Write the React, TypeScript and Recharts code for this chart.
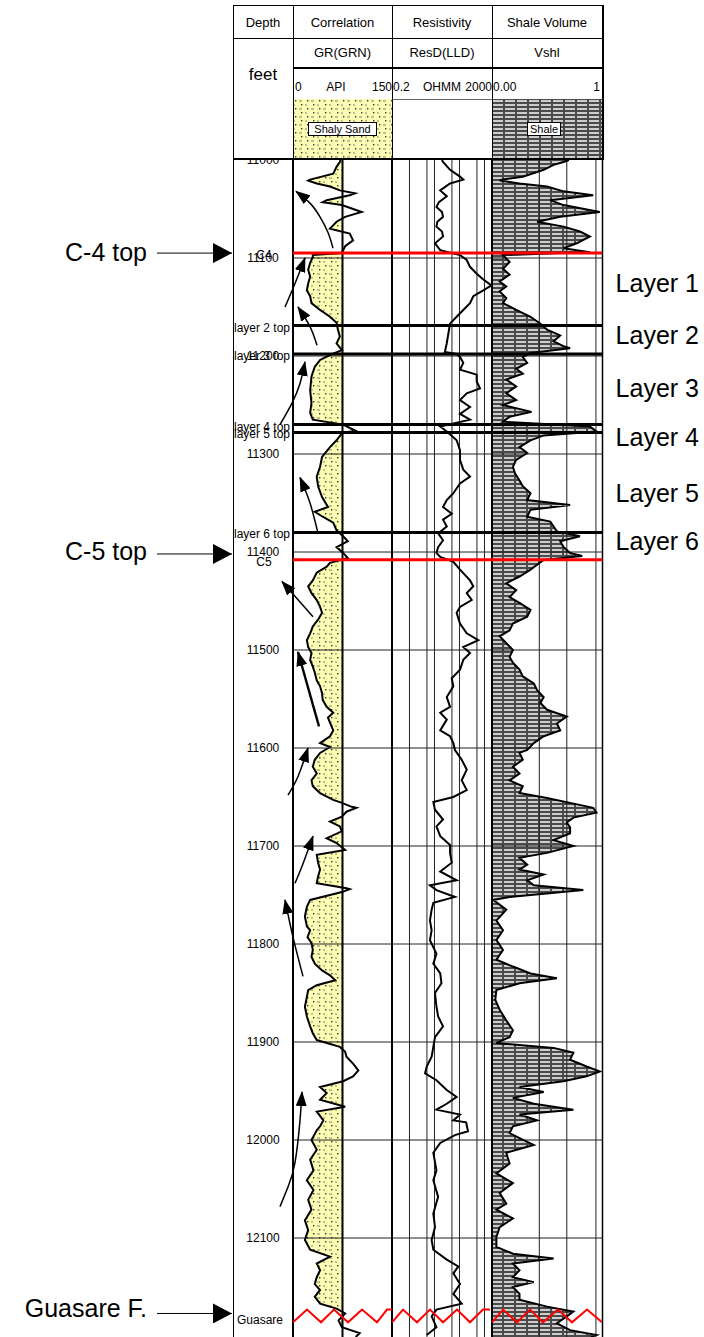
import React from 'react';
import { ComposedChart, Line, Area, XAxis, YAxis, ReferenceLine, ReferenceDot } from 'recharts';

const FONT = '"Liberation Sans", Arial, Helvetica, sans-serif';

// ---------- depth axis ----------
const depthDomain: [number, number] = [11000, 12201];
const depthTicks = [11000, 11100, 11200, 11300, 11400, 11500, 11600, 11700, 11800, 11900, 12000, 12100];
const gridDepths = [11100, 11200, 11300, 11400, 11500, 11600, 11700, 11800, 11900, 12000, 12100];

// ---------- tops ----------
const formationTops = [
  { name: 'C4', depth: 11095 },
  { name: 'C5', depth: 11408 },
];
const guasareLabel = { name: 'Guasare', depth: 12184 };
const layerTops = [
  { name: 'layer 2 top', depth: 11169 },
  { name: 'layer 3 top', depth: 11198 },
  { name: 'layer 4 top', depth: 11270 },
  { name: 'layer 5 top', depth: 11278 },
  { name: 'layer 6 top', depth: 11380 },
];
const layerNames = ['Layer 1', 'Layer 2', 'Layer 3', 'Layer 4', 'Layer 5', 'Layer 6'];
const layerNameDepths = [11125, 11179, 11233, 11283, 11340, 11389];
const pointerLabels = [
  { name: 'C-4 top', textDepth: 11094, arrowDepth: 11095 },
  { name: 'C-5 top', textDepth: 11399, arrowDepth: 11402 },
  { name: 'Guasare F.', textDepth: 12171, arrowDepth: 12177 },
];

// ---------- track scales ----------
const grScale = { min: 0, max: 150, cutoff: 75 };
const resScale = { min: 0.2, max: 2000 };
const resGridValues = [1, 5, 10, 50, 100, 500, 1000];
const vshGridValues = [0.43, 0.68, 0.945];

// ---------- curves: [depth ft, value] ----------
const GR: [number, number][] = [
  [11000, 72], [11002, 71], [11007, 66], [11014, 61], [11020, 26], [11021, 23], [11024, 36], [11027, 56], [11031, 71],
  [11034, 94], [11036, 86], [11041, 51], [11043, 45], [11046, 74], [11053, 104], [11058, 79], [11063, 66], [11070, 56],
  [11075, 86], [11082, 91], [11088, 79], [11092, 76], [11095, 73], [11097, 30], [11099, 30], [11105, 26], [11112, 23],
  [11119, 26], [11126, 23], [11133, 21], [11139, 26], [11146, 28], [11153, 41], [11160, 56], [11166, 66], [11173, 68],
  [11180, 71], [11187, 66], [11194, 74], [11199, 56], [11204, 41], [11211, 33], [11221, 28], [11235, 26], [11248, 28],
  [11258, 26], [11265, 30], [11270, 76], [11276, 94], [11279, 74], [11286, 66], [11293, 56], [11303, 44], [11313, 41],
  [11323, 36], [11333, 38], [11344, 44], [11354, 53], [11359, 33], [11364, 45], [11370, 61], [11378, 66], [11384, 76],
  [11389, 83], [11395, 66], [11401, 76], [11406, 83], [11411, 56], [11415, 51], [11421, 36], [11429, 30], [11435, 23],
  [11442, 28], [11449, 36], [11456, 41], [11462, 44], [11469, 38], [11476, 30], [11483, 26], [11490, 21], [11497, 23],
  [11503, 28], [11510, 26], [11517, 30], [11523, 33], [11531, 36], [11537, 41], [11544, 44], [11551, 45], [11558, 51],
  [11564, 61], [11569, 53], [11574, 56], [11582, 61], [11588, 56], [11595, 41], [11599, 56], [11605, 41], [11612, 33],
  [11619, 30], [11626, 36], [11633, 28], [11639, 30], [11646, 41], [11653, 61], [11656, 74], [11660, 89], [11661, 96],
  [11665, 81], [11670, 74], [11675, 56], [11680, 71], [11685, 74], [11692, 51], [11697, 66], [11704, 79], [11709, 36],
  [11717, 38], [11724, 41], [11731, 38], [11738, 36], [11743, 81], [11744, 86], [11747, 74], [11750, 56], [11755, 26],
  [11762, 21], [11772, 18], [11782, 21], [11786, 26], [11793, 22], [11799, 28], [11806, 30], [11813, 28], [11820, 33],
  [11827, 44], [11832, 56], [11837, 64], [11842, 36], [11847, 23], [11854, 21], [11864, 18], [11874, 21], [11884, 26],
  [11891, 30], [11898, 36], [11905, 71], [11910, 79], [11915, 81], [11922, 91], [11929, 99], [11935, 91], [11940, 76],
  [11946, 41], [11952, 51], [11959, 41], [11966, 79], [11971, 36], [11980, 46], [11986, 41], [11990, 36], [12000, 28],
  [12010, 36], [12020, 26], [12031, 31], [12041, 21], [12051, 31], [12061, 23], [12071, 28], [12082, 18], [12092, 23],
  [12102, 18], [12112, 26], [12119, 56], [12126, 36], [12133, 41], [12140, 36], [12147, 33], [12153, 41], [12160, 33],
  [12167, 41], [12172, 66], [12177, 79], [12184, 69], [12191, 74], [12197, 101], [12201, 95],
];

const RES: [number, number][] = [
  [11000, 20], [11002, 22], [11010, 42], [11017, 105], [11020, 142], [11024, 42], [11031, 17], [11037, 31], [11043, 15],
  [11048, 12], [11053, 20], [11058, 22], [11063, 13], [11068, 12], [11073, 20], [11078, 22], [11085, 10.5], [11092, 17],
  [11097, 105], [11102, 195], [11109, 264], [11116, 489], [11122, 898], [11128, 1900], [11133, 898], [11139, 357],
  [11146, 264], [11153, 142], [11160, 77], [11167, 42], [11177, 36], [11187, 31], [11196, 26], [11198, 77], [11201, 105],
  [11207, 142], [11214, 105], [11219, 489], [11226, 489], [11233, 662], [11238, 195], [11245, 105], [11252, 264],
  [11259, 105], [11265, 264], [11272, 17], [11277, 31], [11286, 77], [11296, 105], [11306, 105], [11316, 142],
  [11323, 264], [11330, 105], [11340, 57], [11347, 31], [11354, 22], [11361, 49], [11367, 22], [11374, 31], [11381, 14],
  [11388, 22], [11395, 14], [11401, 12], [11405, 17], [11410, 57], [11418, 105], [11429, 264], [11435, 357], [11442, 195],
  [11449, 308], [11456, 105], [11462, 77], [11473, 105], [11483, 195], [11490, 566], [11497, 142], [11503, 264],
  [11510, 142], [11520, 105], [11529, 49], [11537, 57], [11548, 31], [11558, 42], [11564, 17], [11571, 31], [11582, 17],
  [11588, 42], [11595, 57], [11602, 66], [11612, 123], [11622, 195], [11633, 123], [11643, 195], [11650, 57], [11655, 9],
  [11663, 10.5], [11673, 22], [11680, 12], [11690, 17], [11699, 42], [11707, 42], [11717, 49], [11726, 17], [11735, 77],
  [11740, 6.6], [11745, 12], [11752, 66], [11758, 9], [11765, 7.7], [11776, 6.6], [11786, 7.7], [11796, 6.6], [11810, 12],
  [11820, 9], [11830, 17], [11840, 19], [11850, 10.5], [11864, 12], [11874, 14], [11884, 22], [11895, 10.5], [11905, 9],
  [11915, 7.7], [11925, 4.9], [11932, 4.2], [11939, 12], [11949, 31], [11956, 77], [11963, 31], [11969, 12], [11974, 105],
  [11980, 57], [11982, 185], [11991, 219], [11995, 66], [12003, 17], [12013, 9], [12031, 12], [12041, 9], [12058, 14],
  [12075, 9], [12089, 10.5], [12102, 7.7], [12112, 9], [12122, 31], [12129, 90], [12136, 57], [12147, 105], [12157, 57],
  [12167, 123], [12173, 12], [12180, 7.7], [12191, 12], [12199, 4.9],
];

const VSH: [number, number][] = [
  [11000, 0.7], [11002, 0.65], [11005, 0.56], [11010, 0.47], [11017, 0.28], [11020, 0.1], [11021, 0.07], [11024, 0.25],
  [11027, 0.5], [11032, 0.65], [11036, 0.92], [11041, 0.53], [11046, 0.65], [11053, 0.98], [11058, 0.62], [11063, 0.41],
  [11068, 0.65], [11073, 0.8], [11078, 0.89], [11085, 0.77], [11090, 0.65], [11094, 0.89], [11097, 0.1], [11104, 0.16],
  [11111, 0.1], [11117, 0.16], [11124, 0.07], [11129, 0.13], [11134, 0.07], [11141, 0.13], [11146, 0.1], [11153, 0.22],
  [11160, 0.35], [11167, 0.44], [11173, 0.5], [11179, 0.62], [11185, 0.56], [11190, 0.65], [11192, 0.71], [11197, 0.35],
  [11201, 0.28], [11207, 0.32], [11213, 0.22], [11218, 0.28], [11224, 0.13], [11231, 0.22], [11238, 0.13], [11245, 0.22],
  [11250, 0.1], [11257, 0.36], [11262, 0.16], [11267, 0.1], [11272, 0.89], [11277, 0.95], [11281, 0.47], [11286, 0.35],
  [11293, 0.25], [11299, 0.32], [11306, 0.22], [11313, 0.19], [11320, 0.21], [11327, 0.25], [11333, 0.28], [11340, 0.35],
  [11347, 0.32], [11352, 0.71], [11357, 0.35], [11364, 0.32], [11369, 0.53], [11374, 0.56], [11379, 0.59], [11384, 0.8],
  [11389, 0.62], [11395, 0.65], [11401, 0.71], [11404, 0.82], [11408, 0.47], [11413, 0.41], [11418, 0.35], [11425, 0.25],
  [11432, 0.13], [11439, 0.22], [11446, 0.16], [11452, 0.25], [11459, 0.35], [11466, 0.32], [11473, 0.19], [11480, 0.16],
  [11486, 0.07], [11493, 0.13], [11500, 0.19], [11507, 0.16], [11513, 0.19], [11520, 0.25], [11527, 0.28], [11534, 0.38],
  [11541, 0.41], [11548, 0.47], [11554, 0.44], [11561, 0.5], [11568, 0.68], [11575, 0.59], [11582, 0.62], [11588, 0.47],
  [11595, 0.38], [11602, 0.32], [11605, 0.25], [11612, 0.28], [11619, 0.19], [11626, 0.25], [11633, 0.16], [11639, 0.28],
  [11646, 0.25], [11651, 0.5], [11656, 0.71], [11661, 0.92], [11666, 0.95], [11671, 0.74], [11676, 0.68], [11681, 0.71],
  [11687, 0.71], [11694, 0.56], [11700, 0.74], [11707, 0.5], [11712, 0.25], [11719, 0.32], [11724, 0.25], [11729, 0.47],
  [11735, 0.32], [11740, 0.38], [11745, 0.83], [11752, 0.16], [11755, 0.01], [11765, 0.13], [11776, 0.04], [11786, 0.1],
  [11796, 0.04], [11806, 0.1], [11816, 0.04], [11823, 0.19], [11830, 0.35], [11835, 0.59], [11840, 0.25], [11847, 0.04],
  [11857, 0.03], [11867, 0.07], [11878, 0.13], [11888, 0.19], [11895, 0.16], [11901, 0.04], [11906, 0.56], [11911, 0.74],
  [11918, 0.71], [11925, 0.86], [11930, 0.98], [11935, 0.86], [11940, 0.65], [11946, 0.25], [11951, 0.47], [11957, 0.19],
  [11963, 0.38], [11969, 0.74], [11974, 0.25], [11980, 0.41], [11986, 0.19], [11993, 0.16], [11998, 0.25], [12005, 0.38],
  [12013, 0.13], [12024, 0.16], [12034, 0.04], [12044, 0.19], [12054, 0.07], [12065, 0.13], [12071, 0.04], [12080, 0.19],
  [12089, 0.07], [12099, 0.04], [12109, 0.04], [12116, 0.19], [12121, 0.56], [12126, 0.19], [12133, 0.25], [12140, 0.19],
  [12145, 0.38], [12150, 0.19], [12157, 0.25], [12163, 0.25], [12170, 0.5], [12175, 0.74], [12180, 0.68], [12187, 0.59],
  [12194, 0.71], [12199, 0.95], [12201, 0.9],
];

// ---------- annotation strokes: [page x, depth] ----------
const ARROWS: [number, number][][] = [
  [[333, 11090], [328, 11074], [320, 11058], [310, 11044], [296, 11032]],
  [[285, 11150], [295, 11126], [305, 11100]],
  [[317, 11189], [310, 11170], [298, 11150]],
  [[280, 11270], [292, 11248], [300, 11228], [305, 11206]],
  [[318, 11381], [310, 11350], [300, 11324]],
  [[313, 11466], [282, 11430]],
  [[319, 11578], [298, 11502]],
  [[288, 11648], [298, 11629], [308, 11600]],
  [[295, 11738], [303, 11718], [313, 11690]],
  [[303, 11833], [293, 11793], [285, 11755]],
  [[280, 12068], [288, 12048], [295, 12023], [300, 11980], [302, 11951]],
];
const ZIGZAGS: [number, number][][] = [
  [[293, 12186], [307, 12173], [321, 12186], [334, 12173], [348, 12186], [362, 12173], [377, 12186], [387, 12173], [392, 12173]],
  [[392, 12186], [403, 12173], [417, 12186], [430, 12173], [443, 12186], [457, 12173], [470, 12186], [483, 12173], [490, 12173]],
  [[492, 12186], [503, 12173], [517, 12186], [530, 12173], [543, 12186], [558, 12173], [572, 12186], [587, 12173], [602, 12186]],
];

// ---------- layout (page px) ----------
const W = 704;
const H = 1337;
const TOP = 160;
const X = { depthL: 233, grL: 293, grMid: 342.5, grR: 392, resR: 492, vshR: 602 };

const kGr = (grScale.max - grScale.min) / (X.grR - X.grL);
const grDomain: [number, number] = [grScale.min - X.grL * kGr, grScale.max + (W - X.grR) * kGr];
const lgMin = Math.log10(resScale.min);
const lgMax = Math.log10(resScale.max);
const kRes = (lgMax - lgMin) / (X.resR - X.grR);
const resDomain: [number, number] = [lgMin - X.grR * kRes, lgMax + (W - X.resR) * kRes];
const kV = 1 / (X.vshR - X.resR);
const vshDomain: [number, number] = [-X.resR * kV, 1 + (W - X.vshR) * kV];

const grData = GR.map(([depth, v]) => ({ depth, gr: v, sand: Math.min(v, grScale.cutoff) }));
const resData = RES.map(([depth, v]) => ({ depth, lr: Math.log10(v) }));
const vshData = VSH.map(([depth, v]) => ({ depth, vsh: v }));
const toPts = (a: [number, number][]) => a.map(([px, depth]) => ({ px, depth }));

const txt =
  (content: string, opts: { anchor?: string; size?: number; clip?: boolean; color?: string }) =>
  (p: any) => {
    const t = (
      <text
        x={p.cx}
        y={p.cy}
        textAnchor={opts.anchor || 'middle'}
        dominantBaseline="central"
        fontSize={opts.size || 12}
        fontFamily={FONT}
        fill={opts.color || '#000'}
      >
        {content}
      </text>
    );
    return opts.clip ? <g clipPath="url(#depthClip)">{t}</g> : <g>{t}</g>;
  };

const Defs = () => (
  <svg width={0} height={0} style={{ position: 'absolute' }}>
    <defs>
      <pattern id="sandPat" width="12" height="8" patternUnits="userSpaceOnUse">
        <rect width="12" height="8" fill="#fdfdb3" />
        <rect x="1" y="1" width="1.4" height="1.4" fill="#333" />
        <rect x="5" y="1.6" width="3" height="0.8" fill="#666" />
        <rect x="7" y="5" width="1.4" height="1.4" fill="#333" />
        <rect x="11" y="5.6" width="3" height="0.8" fill="#666" />
        <rect x="-1" y="5.6" width="2" height="0.8" fill="#666" />
      </pattern>
      <pattern id="shalePat" width="12" height="4" patternUnits="userSpaceOnUse">
        <rect width="12" height="4" fill="#4a4a4a" />
        <rect x="0" y="1" width="10" height="2" fill="#cdcdcd" />
      </pattern>
      <marker id="ah" markerUnits="userSpaceOnUse" markerWidth="15" markerHeight="11" refX="14" refY="5.5" orient="auto">
        <path d="M0,0 L15,5.5 L0,11 z" fill="#000" />
      </marker>
      <marker id="bigAh" markerUnits="userSpaceOnUse" markerWidth="20" markerHeight="20" refX="19" refY="10" orient="auto">
        <path d="M0,0 L19,10 L0,20 z" fill="#000" />
      </marker>
      <clipPath id="depthClip">
        <rect x={X.depthL} y={-20} width={X.grL - X.depthL - 1} height={H} />
      </clipPath>
    </defs>
  </svg>
);

const abs = (l: number, t: number, w: number, h: number, extra: any = {}) => ({
  position: 'absolute' as const,
  left: l,
  top: t,
  width: w,
  height: h,
  ...extra,
});

const HLine = ({ x1, x2, y, t = 1, c = '#000' }: any) => <div style={abs(x1, y, x2 - x1, t, { background: c })} />;
const VLine = ({ x, y1, y2, t = 1, c = '#000' }: any) => <div style={abs(x, y1, t, y2 - y1, { background: c })} />;
const Cell = ({ x1, x2, cy, size = 13, children, align = 'center' }: any) => (
  <div
    style={abs(x1, cy - 10, x2 - x1, 20, {
      lineHeight: '20px',
      fontSize: size,
      fontFamily: FONT,
      textAlign: align,
      whiteSpace: 'nowrap',
      color: '#000',
    })}
  >
    {children}
  </div>
);
const BoxLabel = ({ x, w, children }: any) => (
  <div
    style={abs(x, 122, w, 14, {
      background: '#fff',
      border: '1px solid #000',
      boxSizing: 'border-box',
      fontSize: 11,
      lineHeight: '12px',
      textAlign: 'center',
      fontFamily: FONT,
      whiteSpace: 'nowrap',
    })}
  >
    {children}
  </div>
);

const Header = () => (
  <>
    <div style={abs(X.grL + 1, 99, X.grR - X.grL - 1, 59)}>
      <svg width={X.grR - X.grL - 1} height={59} style={{ display: 'block' }}>
        <rect width="100%" height="100%" fill="url(#sandPat)" />
      </svg>
    </div>
    <div style={abs(X.resR + 1, 99, X.vshR - X.resR - 1, 59)}>
      <svg width={X.vshR - X.resR - 1} height={59} style={{ display: 'block' }}>
        <rect width="100%" height="100%" fill="url(#shalePat)" />
      </svg>
    </div>
    <BoxLabel x={308} w={69}>Shaly Sand</BoxLabel>
    <BoxLabel x={527} w={34}>Shale</BoxLabel>
    <HLine x1={X.depthL} x2={X.vshR + 1} y={5} />
    <HLine x1={X.depthL} x2={X.vshR + 1} y={38} />
    <HLine x1={X.grL} x2={X.vshR + 1} y={67} t={2} />
    <HLine x1={X.grR} x2={X.resR} y={99} c="#666" />
    <HLine x1={X.depthL} x2={X.vshR + 1} y={158} t={2} />
    <VLine x={X.depthL} y1={5} y2={160} />
    <VLine x={X.grL - 0.5} y1={5} y2={160} t={1.5} />
    <VLine x={X.grR - 0.5} y1={5} y2={160} t={1.5} />
    <VLine x={X.resR - 0.5} y1={5} y2={160} t={1.5} />
    <VLine x={X.vshR} y1={5} y2={160} t={1.5} />
    <Cell x1={X.depthL} x2={X.grL} cy={23}>Depth</Cell>
    <Cell x1={X.grL} x2={X.grR} cy={23}>Correlation</Cell>
    <Cell x1={X.grR} x2={X.resR} cy={23}>Resistivity</Cell>
    <Cell x1={X.resR} x2={X.vshR} cy={23}>Shale Volume</Cell>
    <Cell x1={X.grL} x2={X.grR} cy={53}>GR(GRN)</Cell>
    <Cell x1={X.grR} x2={X.resR} cy={53}>ResD(LLD)</Cell>
    <Cell x1={X.resR} x2={X.vshR} cy={53}>Vshl</Cell>
    <Cell x1={X.depthL} x2={X.grL} cy={75} size={17}>feet</Cell>
    <Cell x1={X.grL + 2} x2={X.grL + 20} cy={87} size={12} align="left">0</Cell>
    <Cell x1={318} x2={354} cy={87} size={12}>API</Cell>
    <Cell x1={350} x2={X.grR} cy={87} size={12} align="right">150</Cell>
    <Cell x1={X.grR + 1} x2={X.grR + 30} cy={87} size={12} align="left">0.2</Cell>
    <Cell x1={420} x2={464} cy={87} size={12}>OHMM</Cell>
    <Cell x1={450} x2={X.resR} cy={87} size={12} align="right">2000</Cell>
    <Cell x1={X.resR + 1} x2={X.resR + 40} cy={87} size={12} align="left">0.00</Cell>
    <Cell x1={560} x2={600} cy={87} size={12} align="right">1</Cell>
  </>
);

const seg = (x1: number, x2: number, y: number) => [
  { x: x1, y },
  { x: x2, y },
];

const LogChart = () => (
  <ComposedChart
    layout="vertical"
    width={W}
    height={H - TOP}
    margin={{ top: 0, right: 0, bottom: 0, left: 0 }}
  >
    <XAxis xAxisId="px" type="number" domain={[0, W]} hide allowDataOverflow />
    <XAxis xAxisId="gr" type="number" domain={grDomain} hide allowDataOverflow />
    <XAxis xAxisId="res" type="number" domain={resDomain} hide allowDataOverflow />
    <XAxis xAxisId="vsh" type="number" domain={vshDomain} hide allowDataOverflow />
    <YAxis dataKey="depth" type="number" domain={depthDomain} hide allowDataOverflow />

    <Area
      data={grData}
      xAxisId="gr"
      dataKey="sand"
      baseValue={grScale.cutoff}
      fill="url(#sandPat)"
      fillOpacity={1}
      stroke="none"
      isAnimationActive={false}
    />
    <Area
      data={vshData}
      xAxisId="vsh"
      dataKey="vsh"
      baseValue={0}
      fill="url(#shalePat)"
      fillOpacity={1}
      stroke="none"
      isAnimationActive={false}
    />

    {gridDepths.map((d) => (
      <ReferenceLine key={'g' + d} xAxisId="px" segment={seg(X.grL, X.vshR, d)} stroke="#222" strokeWidth={1} />
    ))}
    {resGridValues.map((v) => (
      <ReferenceLine key={'r' + v} xAxisId="res" x={Math.log10(v)} stroke="#222" strokeWidth={1} />
    ))}
    {vshGridValues.map((v) => (
      <ReferenceLine key={'v' + v} xAxisId="vsh" x={v} stroke="#222" strokeWidth={1} />
    ))}
    <ReferenceLine xAxisId="px" x={X.depthL + 0.5} stroke="#000" strokeWidth={1} />
    <ReferenceLine xAxisId="px" x={X.grL} stroke="#000" strokeWidth={2} />
    <ReferenceLine xAxisId="gr" x={grScale.cutoff} stroke="#000" strokeWidth={2} />
    <ReferenceLine xAxisId="px" x={X.grR} stroke="#000" strokeWidth={2} />
    <ReferenceLine xAxisId="px" x={X.resR} stroke="#000" strokeWidth={2} />
    <ReferenceLine xAxisId="px" x={X.vshR + 0.5} stroke="#000" strokeWidth={1.5} />

    <Line data={grData} xAxisId="gr" dataKey="gr" stroke="#000" strokeWidth={2} dot={false} isAnimationActive={false} />
    <Line data={resData} xAxisId="res" dataKey="lr" stroke="#000" strokeWidth={2} dot={false} isAnimationActive={false} />
    <Line data={vshData} xAxisId="vsh" dataKey="vsh" stroke="#000" strokeWidth={2} dot={false} isAnimationActive={false} />

    {layerTops.map((l) => (
      <ReferenceLine key={l.name} xAxisId="px" segment={seg(X.grL, X.vshR, l.depth)} stroke="#000" strokeWidth={3} />
    ))}
    {formationTops.map((f) => (
      <ReferenceLine key={f.name} xAxisId="px" segment={seg(X.grL, X.vshR, f.depth)} stroke="#ff0000" strokeWidth={3} />
    ))}
    {ZIGZAGS.map((z, i) => (
      <Line
        key={'z' + i}
        data={toPts(z)}
        xAxisId="px"
        dataKey="px"
        stroke="#ff0000"
        strokeWidth={2}
        dot={false}
        isAnimationActive={false}
      />
    ))}
    {ARROWS.map((a, i) => (
      <Line
        key={'a' + i}
        data={toPts(a)}
        xAxisId="px"
        dataKey="px"
        type="natural"
        stroke="#000"
        strokeWidth={i === 6 ? 2.4 : 1.5}
        dot={false}
        markerEnd="url(#ah)"
        isAnimationActive={false}
      />
    ))}
    {pointerLabels.map((p) => (
      <Line
        key={'p' + p.name}
        data={toPts([
          [157, p.arrowDepth],
          [X.depthL - 1, p.arrowDepth],
        ])}
        xAxisId="px"
        dataKey="px"
        stroke="#000"
        strokeWidth={1}
        dot={false}
        markerEnd="url(#bigAh)"
        isAnimationActive={false}
      />
    ))}

    {depthTicks.map((d) => (
      <ReferenceDot key={'t' + d} xAxisId="px" x={263} y={d} r={1} shape={txt(String(d), { size: 12 })} />
    ))}
    {layerTops.map((l) => (
      <ReferenceDot
        key={'lt' + l.name}
        xAxisId="px"
        x={X.depthL + 1}
        y={l.depth + 2}
        r={1}
        shape={txt(l.name, { anchor: 'start', size: 12, clip: true })}
      />
    ))}
    {formationTops.map((f) => (
      <ReferenceDot key={'ft' + f.name} xAxisId="px" x={264} y={f.depth + 2} r={1} shape={txt(f.name, { size: 12 })} />
    ))}
    <ReferenceDot
      xAxisId="px"
      x={X.depthL + 4}
      y={guasareLabel.depth}
      r={1}
      shape={txt(guasareLabel.name, { anchor: 'start', size: 12, clip: true })}
    />
    {pointerLabels.map((p) => (
      <ReferenceDot key={'pl' + p.name} xAxisId="px" x={147} y={p.textDepth} r={1} shape={txt(p.name, { anchor: 'end', size: 25 })} />
    ))}
    {layerNames.map((n, i) => (
      <ReferenceDot key={'ln' + n} xAxisId="px" x={699} y={layerNameDepths[i]} r={1} shape={txt(n, { anchor: 'end', size: 25 })} />
    ))}
  </ComposedChart>
);

export default function App() {
  return (
    <div style={abs(0, 0, W, H, { background: '#fff', overflow: 'hidden', fontFamily: FONT })}>
      <Defs />
      <Header />
      <div style={abs(0, TOP, W, H - TOP)}>
        <LogChart />
      </div>
    </div>
  );
}
